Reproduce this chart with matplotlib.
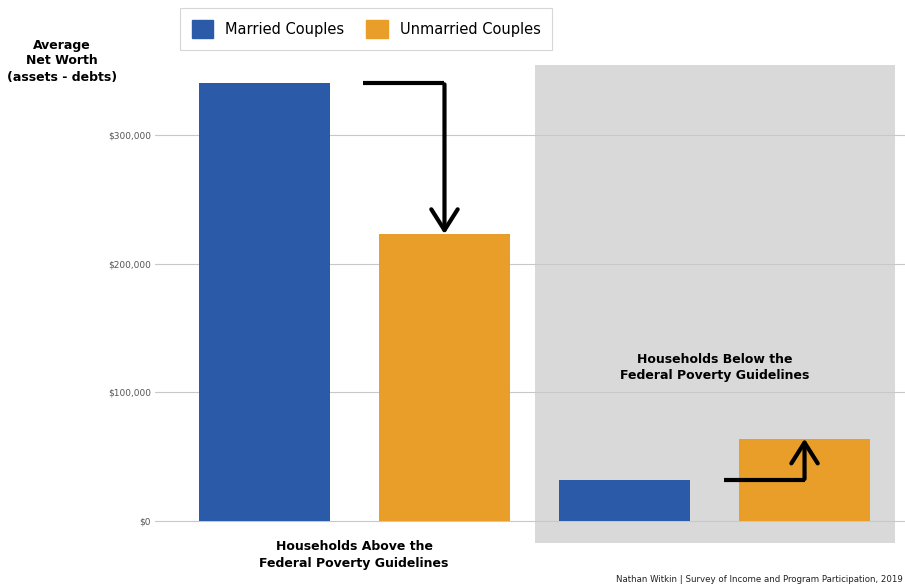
import matplotlib
matplotlib.use("Agg")
import matplotlib.pyplot as plt
from matplotlib.patches import Rectangle
from matplotlib.ticker import FuncFormatter

# data
groups = ["Households Above the\nFederal Poverty Guidelines",
          "Households Below the\nFederal Poverty Guidelines"]
series = ["Married Couples", "Unmarried Couples"]
married = [340000, 32000]
unmarried = [223000, 64000]
yticks = [0, 100000, 200000, 300000]

BLUE = "#2B5BA8"
ORANGE = "#E99E2A"

fig = plt.figure(figsize=(9.05, 5.87), dpi=100)
W, H = 905, 587
# axes placed in pixel terms
ax = fig.add_axes([155 / W, 1 - 550 / H, (905 - 155) / W, (550 - 60) / H])
ax.set_xlim(-0.608, 3.558)
ax.set_ylim(-22500, 358200)

# shaded region for "below" group
ax.add_patch(Rectangle((1.503, -17000), 2.0, 371000, facecolor="#D9D9D9",
                       edgecolor="none", zorder=0))

x_pos = [0, 1, 2, 3]
vals = [married[0], unmarried[0], married[1], unmarried[1]]
cols = [BLUE, ORANGE, BLUE, ORANGE]
ax.bar(x_pos, vals, width=0.73, color=cols, zorder=3)

ax.set_yticks(yticks)
ax.yaxis.set_major_formatter(FuncFormatter(lambda v, p: "${:,.0f}".format(v)))
ax.tick_params(axis="y", labelsize=6.5, labelcolor="#555555", length=0, pad=3)
ax.tick_params(axis="x", length=0, labelbottom=False)
ax.grid(axis="y", color="#C8C8C8", linewidth=0.8, zorder=1)
for s in ax.spines.values():
    s.set_visible(False)

# elbow arrows between bars
for i in (0, 2):
    y0, y1 = vals[i], vals[i + 1]
    ax.plot([i + 0.55, i + 1.0], [y0, y0], color="black", lw=3,
            solid_capstyle="butt", zorder=5)
    ax.annotate("", xy=(i + 1.0, y1), xytext=(i + 1.0, y0 - 700 if y1 < y0 else y0 + 700),
                arrowprops=dict(arrowstyle="->,head_length=1.5,head_width=0.95",
                                color="black", lw=3, shrinkA=0, shrinkB=0),
                zorder=5)

# group labels
fig.text(354 / W, 1 - 555 / H, groups[0], ha="center", va="center",
         fontsize=9, fontweight="bold", linespacing=1.3)
ax.text(2.5, 119000, groups[1], ha="center", va="center",
        fontsize=9, fontweight="bold", linespacing=1.3, zorder=4)

# y axis title
fig.text(62 / W, 1 - 61 / H, "Average\nNet Worth\n(assets - debts)",
         ha="center", va="center", fontsize=9, fontweight="bold",
         linespacing=1.3)

# legend
handles = [Rectangle((0, 0), 1, 1, color=BLUE), Rectangle((0, 0), 1, 1, color=ORANGE)]
leg = fig.legend(handles, series, loc="center", bbox_to_anchor=(366 / W, 1 - 29 / H),
                 ncol=2, fontsize=10.5, frameon=True, fancybox=False,
                 handlelength=1.5, handleheight=1.5, handletextpad=0.8,
                 columnspacing=1.5, borderpad=0.8, edgecolor="#CCCCCC")
leg.get_frame().set_linewidth(0.8)

fig.text(903 / W, 1 - 580 / H,
         "Nathan Witkin | Survey of Income and Program Participation, 2019",
         ha="right", va="center", fontsize=6.2, color="#222222")

fig.savefig("out.png", dpi=100)
